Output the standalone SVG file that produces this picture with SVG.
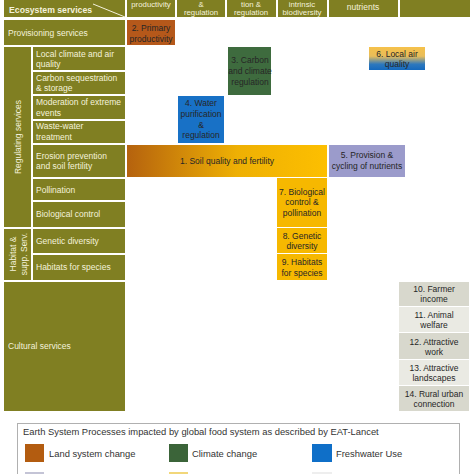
<svg xmlns="http://www.w3.org/2000/svg" width="474" height="474" viewBox="0 0 474 474">
<defs>
<linearGradient id="gSoil" x1="0" y1="0" x2="1" y2="0">
<stop offset="0" stop-color="#b5620e"/>
<stop offset="0.55" stop-color="#eeb004"/>
<stop offset="1" stop-color="#fdbf00"/>
</linearGradient>
<linearGradient id="gAir" x1="0" y1="0" x2="0" y2="1">
<stop offset="0" stop-color="#f6c14a"/>
<stop offset="0.4" stop-color="#e8bd5a"/>
<stop offset="0.75" stop-color="#2d78bd"/>
<stop offset="1" stop-color="#1469be"/>
</linearGradient>
<style>
.ol{fill:#807f22}
.lt{font-family:"Liberation Sans",Arial,sans-serif;font-size:8.5px;fill:#f4f2dc}
.hd{font-family:"Liberation Sans",Arial,sans-serif;font-size:8.5px;fill:#f4f2dc;text-anchor:middle}
.hh{font-family:"Liberation Sans",Arial,sans-serif;font-size:7.8px;fill:#f4f2dc;text-anchor:middle}
.bt{font-family:"Liberation Sans",Arial,sans-serif;font-size:8.5px;fill:#262626;text-anchor:middle}
.lg{font-family:"Liberation Sans",Arial,sans-serif;font-size:9.4px;fill:#333}
</style>
</defs>
<rect width="474" height="474" fill="#fff"/>

<g id="header">
<rect class="ol" x="4" y="-2" width="121" height="19"/>
<text class="lt" x="9" y="13" style="font-weight:bold;font-size:8.7px">Ecosystem services</text>
<line x1="93" y1="4" x2="125" y2="17" stroke="#f4f2dc" stroke-width="1"/>
<rect class="ol" x="127" y="-2" width="48" height="19"/>
<text class="hh" x="151" y="6.6">productivity</text>
<rect class="ol" x="177" y="-2" width="48" height="19"/>
<text class="hh" x="201" y="6.6">&amp;</text>
<text class="hh" x="201" y="15.3">regulation</text>
<rect class="ol" x="227" y="-2" width="49" height="19"/>
<text class="hh" x="251" y="6.6">tion &amp;</text>
<text class="hh" x="251" y="15.3">regulation</text>
<rect class="ol" x="278" y="-2" width="49" height="19"/>
<text class="hh" x="302" y="6.6">intrinsic</text>
<text class="hh" x="302" y="15.3">biodiversity</text>
<rect class="ol" x="329" y="-2" width="69" height="19"/>
<text class="hd" x="363" y="10">nutrients</text>
<rect class="ol" x="400" y="-2" width="70" height="19"/>
</g>

<g id="row-provisioning">
<rect class="ol" x="4" y="20" width="121" height="25"/>
<text class="lt" x="8" y="36">Provisioning services</text>
</g>

<g id="group-regulating">
<rect class="ol" x="4" y="47" width="27" height="180"/>
<text class="hd" transform="translate(21,137) rotate(-90)">Regulating services</text>
</g>
<g id="row-local-climate">
<rect class="ol" x="33" y="47" width="92" height="23"/>
<text class="lt" x="36" y="57">Local climate and air</text>
<text class="lt" x="36" y="67">quality</text>
</g>
<g id="row-carbon">
<rect class="ol" x="33" y="72" width="92" height="22"/>
<text class="lt" x="36" y="81">Carbon sequestration</text>
<text class="lt" x="36" y="91">&amp; storage</text>
</g>
<g id="row-moderation">
<rect class="ol" x="33" y="96" width="92" height="23"/>
<text class="lt" x="36" y="105">Moderation of extreme</text>
<text class="lt" x="36" y="116">events</text>
</g>
<g id="row-wastewater">
<rect class="ol" x="33" y="121" width="92" height="22"/>
<text class="lt" x="36" y="129">Waste-water</text>
<text class="lt" x="36" y="140">treatment</text>
</g>
<g id="row-erosion">
<rect class="ol" x="33" y="145" width="92" height="32"/>
<text class="lt" x="36" y="159">Erosion prevention</text>
<text class="lt" x="36" y="169">and soil fertility</text>
</g>
<g id="row-pollination">
<rect class="ol" x="33" y="179" width="92" height="21"/>
<text class="lt" x="36" y="193">Pollination</text>
</g>
<g id="row-biocontrol">
<rect class="ol" x="33" y="202" width="92" height="25"/>
<text class="lt" x="36" y="217">Biological control</text>
</g>

<g id="group-habitat">
<rect class="ol" x="4" y="229" width="27" height="51"/>
<text class="hd" transform="translate(16,254) rotate(-90)">Habitat &amp;</text>
<text class="hd" transform="translate(27,254) rotate(-90)">supp. Serv.</text>
</g>
<g id="row-genetic">
<rect class="ol" x="33" y="229" width="92" height="24"/>
<text class="lt" x="36" y="244">Genetic diversity</text>
</g>
<g id="row-habitats">
<rect class="ol" x="33" y="255" width="92" height="25"/>
<text class="lt" x="36" y="270">Habitats for species</text>
</g>

<g id="row-cultural">
<rect class="ol" x="4" y="282" width="121" height="129"/>
<text class="lt" x="8" y="349">Cultural services</text>
</g>

<g id="n2">
<rect x="127" y="20" width="48" height="25" fill="#b5581a"/>
<text class="bt" x="151" y="31">2. Primary</text>
<text class="bt" x="151" y="42">productivity</text>
</g>
<g id="n3">
<rect x="228" y="47" width="43" height="48" fill="#3e6b3e"/>
<text class="bt" x="250" y="63">3. Carbon</text>
<text class="bt" x="250" y="74">and climate</text>
<text class="bt" x="250" y="85">regulation</text>
</g>
<g id="n4">
<rect x="178" y="96" width="46" height="47" fill="#1871c6"/>
<text class="bt" x="201" y="106">4. Water</text>
<text class="bt" x="201" y="117">purification</text>
<text class="bt" x="201" y="128">&amp;</text>
<text class="bt" x="201" y="138">regulation</text>
</g>
<g id="n6">
<rect x="369" y="47" width="56" height="23" fill="url(#gAir)"/>
<text class="bt" x="397" y="57">6. Local air</text>
<text class="bt" x="397" y="67">quality</text>
</g>
<g id="n1">
<rect x="127" y="145" width="200" height="32" fill="url(#gSoil)"/>
<text class="bt" x="227" y="164">1. Soil quality and fertility</text>
</g>
<g id="n5">
<rect x="329" y="145" width="76" height="32" fill="#9b9bcb"/>
<text class="bt" x="367" y="158">5. Provision &amp;</text>
<text class="bt" x="367" y="169">cycling of nutrients</text>
</g>
<g id="n7">
<rect x="277" y="178" width="50" height="49" fill="#f6b800"/>
<text class="bt" x="302" y="195">7. Biological</text>
<text class="bt" x="302" y="205">control &amp;</text>
<text class="bt" x="302" y="216">pollination</text>
</g>
<g id="n8">
<rect x="277" y="228" width="50" height="25" fill="#f6b800"/>
<text class="bt" x="302" y="239">8. Genetic</text>
<text class="bt" x="302" y="249">diversity</text>
</g>
<g id="n9">
<rect x="277" y="254" width="50" height="26" fill="#f6b800"/>
<text class="bt" x="302" y="265">9. Habitats</text>
<text class="bt" x="302" y="276">for species</text>
</g>
<g id="n10">
<rect x="399" y="282" width="70" height="24" fill="#d8d8cd"/>
<text class="bt" x="434" y="292">10. Farmer</text>
<text class="bt" x="434" y="302">income</text>
</g>
<g id="n11">
<rect x="399" y="307" width="70" height="25" fill="#eaeae3"/>
<text class="bt" x="434" y="318">11. Animal</text>
<text class="bt" x="434" y="328">welfare</text>
</g>
<g id="n12">
<rect x="399" y="333" width="70" height="26" fill="#d8d8cd"/>
<text class="bt" x="434" y="345">12. Attractive</text>
<text class="bt" x="434" y="355">work</text>
</g>
<g id="n13">
<rect x="399" y="360" width="70" height="25" fill="#eaeae3"/>
<text class="bt" x="434" y="371">13. Attractive</text>
<text class="bt" x="434" y="381">landscapes</text>
</g>
<g id="n14">
<rect x="399" y="386" width="70" height="25" fill="#d8d8cd"/>
<text class="bt" x="434" y="397">14. Rural urban</text>
<text class="bt" x="434" y="407">connection</text>
</g>

<g id="connectors"></g>

<g id="legend">
<rect x="17.5" y="423.5" width="442" height="60" fill="#fff" stroke="#b0b0b0" stroke-width="1"/>
<text class="lg" x="23" y="435">Earth System Processes impacted by global food system as described by EAT-Lancet</text>
<rect x="25" y="444" width="19" height="18" fill="#b35c10"/>
<text class="lg" x="49" y="457">Land system change</text>
<rect x="169" y="444" width="19" height="18" fill="#3b6439"/>
<text class="lg" x="192" y="457">Climate change</text>
<rect x="312" y="444" width="20" height="18" fill="#0f6fc8"/>
<text class="lg" x="336" y="457">Freshwater Use</text>
<rect x="25" y="472" width="19" height="18" fill="#c4c4d6"/>
<rect x="169" y="472" width="19" height="18" fill="#f2d77a"/>
<rect x="312" y="472" width="20" height="18" fill="#eeeeee"/>
</g>
</svg>
